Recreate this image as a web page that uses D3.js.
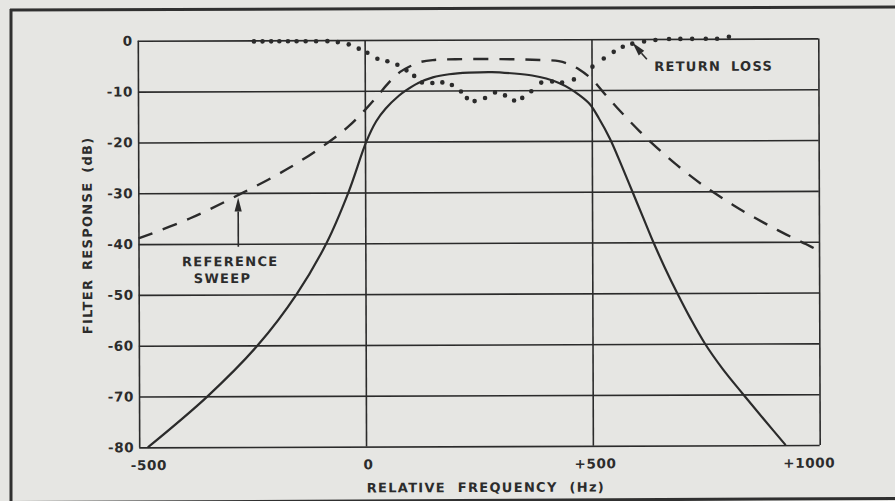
<!DOCTYPE html>
<html>
<head>
<meta charset="utf-8">
<script src="https://cdn.jsdelivr.net/npm/d3@7"></script>
<style>
  html, body { margin: 0; padding: 0; background: #e6e6e3; }
  svg { display: block; }
  text { font-family: "DejaVu Sans", sans-serif; font-weight: bold; fill: #2c2c2c; }
</style>
</head>
<body>
<svg id="chart" width="895" height="501"></svg>
<script>
// Axis ticks
const yTicks = [0, -10, -20, -30, -40, -50, -60, -70, -80];
const xTicks = [-500, 0, 500, 1000];
const xTickLabels = ["-500", "0", "+500", "+1000"];

// Filter response (solid)
const filterFreq = [-481, -349, -238, -152, -86, -37, 3, 25, 46, 75, 90, 118, 150, 186, 230, 280, 330, 369, 400, 428, 452, 473, 496, 516, 540, 566, 589, 612, 635, 660, 687, 716, 748, 787, 832, 878, 925];
const filterDb   = [-80, -70, -60, -50, -40, -30, -20, -16, -13.5, -11, -10, -8.5, -7.4, -6.8, -6.5, -6.4, -6.7, -7.1, -7.7, -8.6, -9.7, -11, -12.8, -15.6, -19.6, -25, -30, -35, -40, -45, -50, -55, -60, -65, -70, -75, -80];

// Reference sweep (dashed)
const sweepFreq = [-500, -387, -277, -167, -79, -35, 2, 28, 53, 78, 100, 122, 150, 200, 300, 370, 428, 450, 472, 501, 531, 556, 580, 605, 630, 656, 683, 712, 743, 776, 809, 840, 876, 909, 940, 972, 1000];
const sweepDb   = [-38.9, -35, -30.3, -25.1, -20, -16.9, -13.6, -11, -8.4, -6.3, -5.2, -4.4, -4.0, -3.85, -3.85, -4.0, -4.3, -4.9, -5.9, -7.9, -11, -13.5, -15.8, -18.1, -20.3, -22.4, -24.5, -26.6, -28.7, -30.7, -32.6, -34.3, -36.1, -37.7, -39.1, -40.5, -41.8];

// Return loss (dotted)
const returnFreq = [-244, -225, -206, -188, -169, -150, -130, -107, -82, -59, -35, -13, 6, 28, 50, 72, 92, 109, 126, 149, 171, 192, 212, 225, 242, 265, 287, 309, 329, 347, 367, 389, 413, 435, 461, 502, 527, 549, 569, 590, 616, 641, 671, 696, 722, 752, 777, 803];
const returnDb   = [-0.2, -0.2, -0.2, -0.2, -0.2, -0.2, -0.2, -0.2, -0.2, -0.4, -0.85, -1.7, -2.5, -3.7, -4.2, -4.9, -6.0, -7.1, -8.4, -8.5, -8.4, -8.9, -10.2, -11.5, -12.1, -11.5, -10.4, -11.0, -12.0, -11.5, -10.2, -8.5, -8.3, -8.5, -7.9, -5.4, -3.8, -2.5, -1.5, -0.9, -0.5, -0.2, 0, 0, 0, 0, 0, 0.4];

const ink = "#2b2b2b";
const svg = d3.select("#chart");

// Outer frame of the figure
const frame = svg.append("g").attr("fill", "none").attr("stroke", "#303030").attr("stroke-width", 3);
frame.append("line").attr("x1", 10).attr("y1", 10).attr("x2", 895).attr("y2", 7);
frame.append("line").attr("x1", 11).attr("y1", 9).attr("x2", 11).attr("y2", 501);
frame.append("line").attr("x1", 10).attr("y1", 502.5).attr("x2", 895).attr("y2", 498.5);

const plotLeft = 138.5, plotRight = 819, plotTop = 39.6, plotBottom = 446.2;
const x = d3.scaleLinear().domain([-500, 1000]).range([plotLeft, plotRight]);
const y = d3.scaleLinear().domain([0, -80]).range([plotTop, plotBottom]);

const g = svg.append("g").attr("transform", "rotate(-0.2 479 244)");

// Horizontal grid + y labels
const yAxis = d3.axisLeft(y)
  .tickValues(yTicks)
  .tickSize(-(plotRight - plotLeft))
  .tickPadding(5)
  .tickFormat(d => d === 0 ? "0" : "-" + Math.abs(d));
const gy = g.append("g").attr("transform", `translate(${plotLeft},0)`).call(yAxis);
gy.select(".domain").remove();
gy.selectAll(".tick line").attr("stroke", ink).attr("stroke-width", 1.6);
gy.selectAll(".tick text")
  .attr("font-size", 13.5).attr("letter-spacing", 0.6)
  .attr("fill", ink).style("font-family", '"DejaVu Sans", sans-serif').style("font-weight", "bold");

// Vertical grid + x labels
const xAxis = d3.axisBottom(x)
  .tickValues(xTicks)
  .tickSize(-(plotBottom - plotTop))
  .tickPadding(13)
  .tickFormat((d, i) => xTickLabels[i]);
const gx = g.append("g").attr("transform", `translate(0,${plotBottom})`).call(xAxis);
gx.select(".domain").remove();
gx.selectAll(".tick line").attr("stroke", ink).attr("stroke-width", 1.6);
gx.selectAll(".tick text")
  .attr("font-size", 13.5).attr("letter-spacing", 0.6)
  .attr("fill", ink).style("font-family", '"DejaVu Sans", sans-serif').style("font-weight", "bold")
  .attr("dx", (d, i) => i === 0 ? 9 : (i === xTicks.length - 1 ? -11 : 2));

// Axis titles
g.append("text")
  .attr("x", 485).attr("y", 492)
  .attr("text-anchor", "middle")
  .attr("font-size", 13).attr("letter-spacing", 1.3).attr("word-spacing", 6)
  .text("RELATIVE FREQUENCY (Hz)");
g.append("text")
  .attr("transform", "translate(92,234) rotate(-90)")
  .attr("text-anchor", "middle")
  .attr("font-size", 13).attr("letter-spacing", 1.3).attr("word-spacing", 3)
  .text("FILTER RESPONSE (dB)");

const line = d3.line()
  .x(d => x(d[0])).y(d => y(d[1]))
  .curve(d3.curveCatmullRom.alpha(0.5));

// Filter response
g.append("path")
  .datum(d3.zip(filterFreq, filterDb))
  .attr("fill", "none").attr("stroke", ink).attr("stroke-width", 2.2)
  .attr("d", line);

// Reference sweep
g.append("path")
  .datum(d3.zip(sweepFreq, sweepDb))
  .attr("fill", "none").attr("stroke", ink).attr("stroke-width", 2.4)
  .attr("stroke-dasharray", "15 11")
  .attr("d", line);

// Return loss
g.append("g").selectAll("circle")
  .data(d3.zip(returnFreq, returnDb))
  .join("circle")
  .attr("cx", d => x(d[0])).attr("cy", d => y(d[1]))
  .attr("r", 2.3).attr("fill", ink);

// Annotations
function arrow(x1, y1, x2, y2) {
  const a = Math.atan2(y2 - y1, x2 - x1);
  const len = 14, half = 3.6;
  const bx = x2 - len * Math.cos(a), by = y2 - len * Math.sin(a);
  g.append("line")
    .attr("x1", x1).attr("y1", y1).attr("x2", bx).attr("y2", by)
    .attr("stroke", ink).attr("stroke-width", 1.6);
  g.append("path")
    .attr("d", `M${x2},${y2}L${bx - half * Math.sin(a)},${by + half * Math.cos(a)}L${bx + half * Math.sin(a)},${by - half * Math.cos(a)}Z`)
    .attr("fill", ink);
}

arrow(x(-280), y(-40.6), x(-280), y(-30.9));
g.append("text").attr("x", x(-298)).attr("y", y(-44.4))
  .attr("text-anchor", "middle").attr("font-size", 13).attr("letter-spacing", 1.3)
  .text("REFERENCE");
g.append("text").attr("x", x(-315)).attr("y", y(-47.7))
  .attr("text-anchor", "middle").attr("font-size", 13).attr("letter-spacing", 1.3)
  .text("SWEEP");

arrow(x(622), y(-4.0), x(590), y(-0.7));
g.append("text").attr("x", x(638)).attr("y", y(-6.3))
  .attr("font-size", 13).attr("letter-spacing", 1.3).attr("word-spacing", 4)
  .text("RETURN LOSS");
</script>
</body>
</html>
